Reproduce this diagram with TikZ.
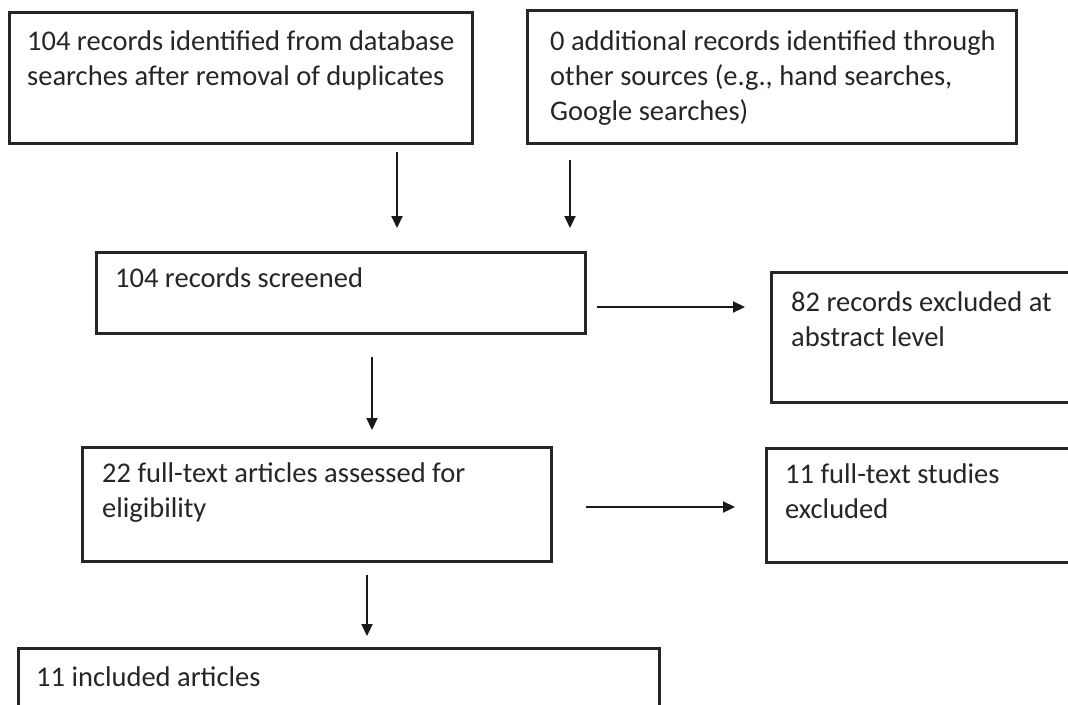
\documentclass[tikz,border=0pt]{standalone}
\usepackage{fontspec}
\setmainfont{Carlito}
\usetikzlibrary{arrows.meta}
\begin{document}
\begin{tikzpicture}[x=1pt,y=-1pt,
  box/.style={draw=black!85, line width=3pt, inner sep=0pt, outer sep=0pt, anchor=north west},
  lbl/.style={anchor=base west, inner sep=0pt, align=left, text=black!85, font=\fontsize{28.5}{35}\selectfont},
  arr/.style={draw=black!90, line width=2.2pt, -{Triangle[length=12pt,width=11pt]}}]
\useasboundingbox (0,0) rectangle (1068,704);
\clip (0,0) rectangle (1068,704);
\fill[white] (0,0) rectangle (1068,704);
% boxes
\node[box, minimum width=463pt, minimum height=131pt] (b1) at (9,12) {};
\node[box, minimum width=489pt, minimum height=133pt] (b2) at (527,10) {};
\node[box, minimum width=489pt, minimum height=81pt] (b3) at (96,252) {};
\node[box, minimum width=330pt, minimum height=130pt] (b5) at (771,272) {};
\node[box, minimum width=469pt, minimum height=114pt] (b4) at (82,447) {};
\node[box, minimum width=335pt, minimum height=114pt] (b6) at (766,448) {};
\node[box, minimum width=641pt, minimum height=90pt] (b7) at (18,648) {};
% texts (anchor = baseline of last line)
\node[lbl] (t1) at (27,85) {104 records identified from database\\searches after removal of duplicates};
\node[lbl] (t2) at (550,120) {0 additional records identified through\\other sources (e.g., hand searches,\\Google searches)};
\node[lbl] (t3) at (115,287) {104 records screened};
\node[lbl] (t4) at (102,517) {22 full-text articles assessed for\\eligibility};
\node[lbl] (t5) at (791,346) {82 records excluded at\\abstract level};
\node[lbl] (t6) at (785,518) {11 full-text studies\\excluded};
\node[lbl] (t7) at (36,686) {11 included articles};
% connectors
\coordinate (x1) at (397,0);
\coordinate (x2) at (570,0);
\coordinate (x3) at (372,0);
\coordinate (x4) at (367,0);
\coordinate (y1) at (0,307);
\coordinate (y2) at (0,507);
\draw[arr, shorten <=9pt, shorten >=24pt] (b1.south -| x1) -- (b3.north -| x1);
\draw[arr, shorten <=17pt, shorten >=24pt] (b2.south -| x2) -- (b3.north -| x2);
\draw[arr, shorten <=24pt, shorten >=17pt] (b3.south -| x3) -- (b4.north -| x3);
\draw[arr, shorten <=14pt, shorten >=12pt] (b4.south -| x4) -- (b7.north -| x4);
\draw[arr, shorten <=12pt, shorten >=26pt] (b3.east |- y1) -- (b5.west |- y1);
\draw[arr, shorten <=35pt, shorten >=31pt] (b4.east |- y2) -- (b6.west |- y2);
\end{tikzpicture}
\end{document}
